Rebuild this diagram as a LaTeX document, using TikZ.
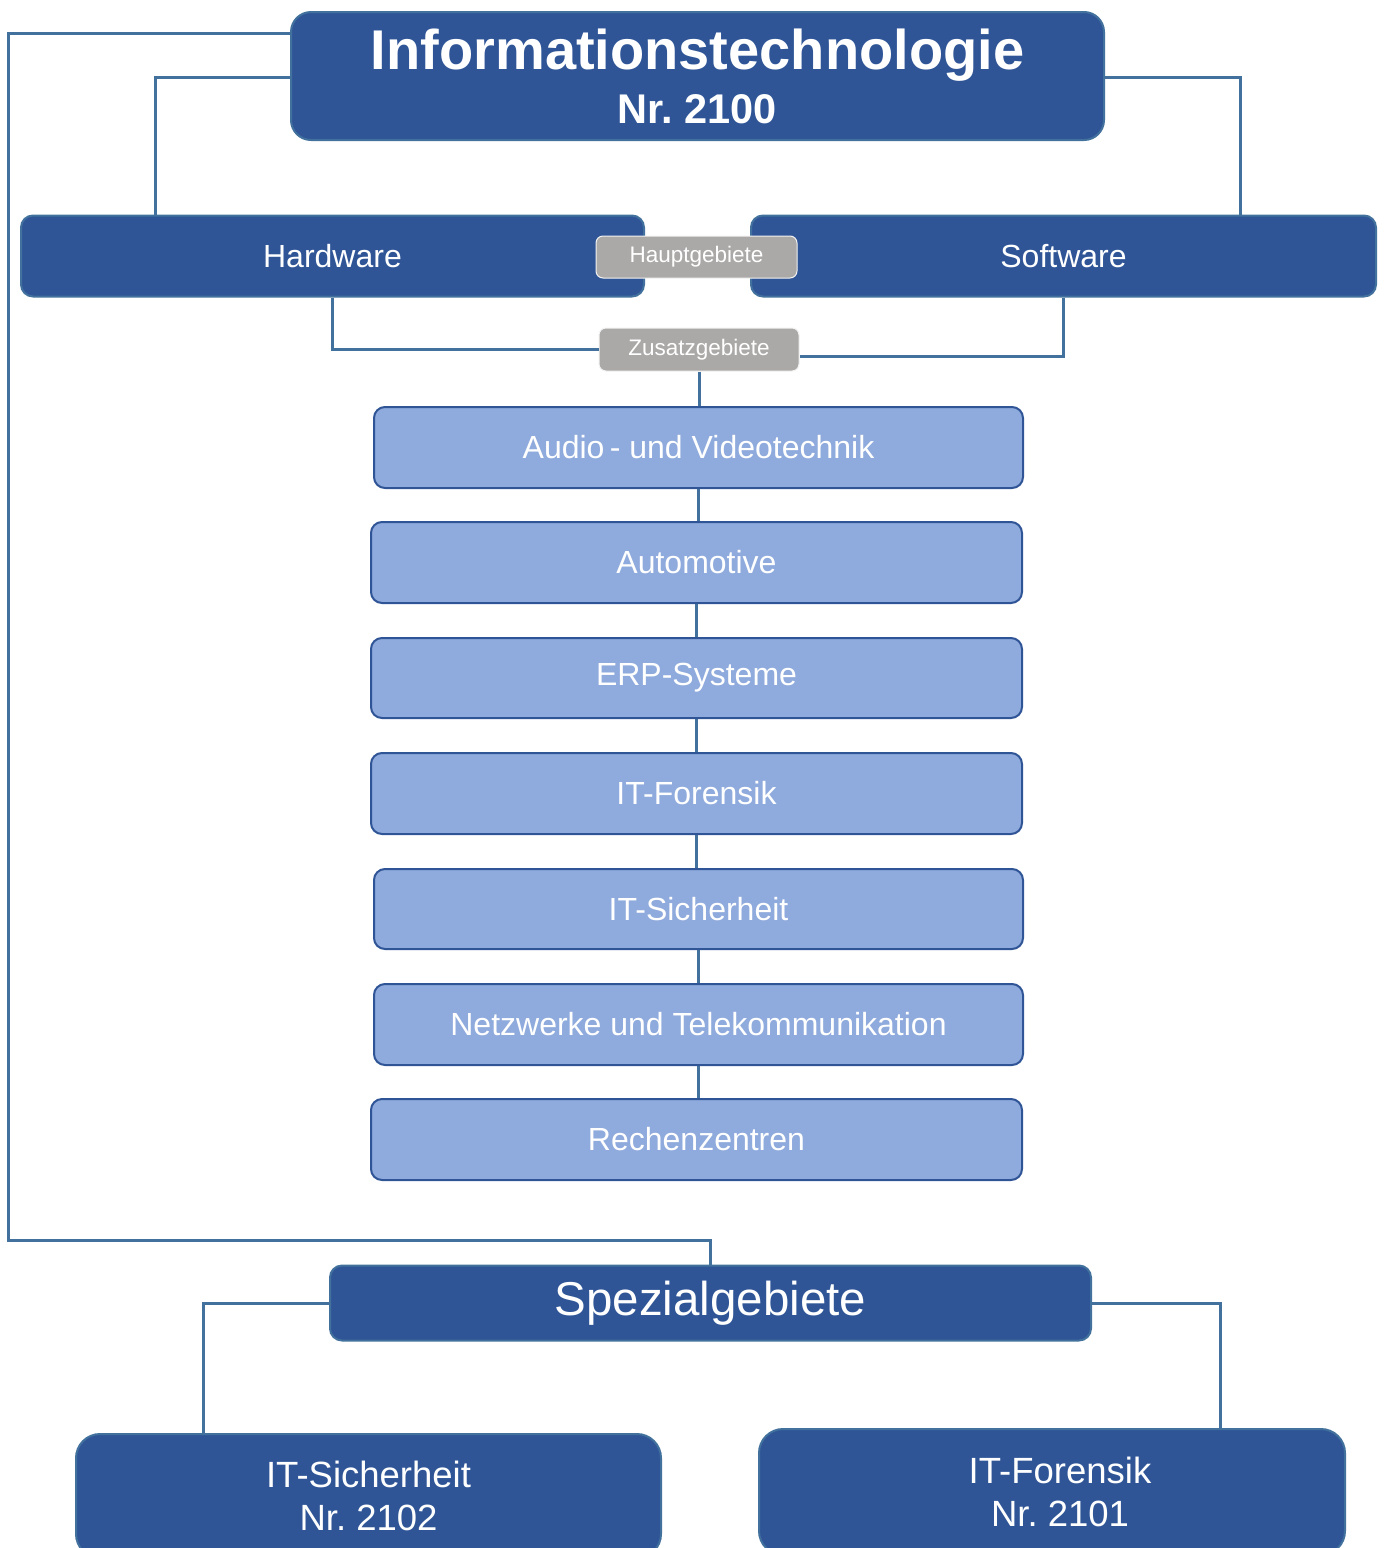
\documentclass[tikz,border=0pt]{standalone}
\usepackage{fontspec}
\setmainfont{Liberation Sans}
\usetikzlibrary{positioning,calc}
\definecolor{dkblue}{HTML}{2F5597}
\definecolor{edgeblue}{HTML}{41719C}
\definecolor{ltblue}{HTML}{8FAADC}
\definecolor{tagray}{HTML}{ABA9A7}
\tikzset{
  mainbox/.style={draw=edgeblue, line width=2pt, fill=dkblue, text=white, inner sep=0pt, rounded corners=14pt, align=center},
  subbox/.style={draw=dkblue, line width=2pt, fill=ltblue, text=white, inner sep=0pt, rounded corners=11pt, minimum height=81pt,
    font=\fontsize{32}{36}\selectfont},
  tagbox/.style={draw=white!85!tagray, line width=1pt, fill=tagray, text=white, inner sep=0pt, rounded corners=7pt,
    font=\fontsize{22.5}{26}\selectfont},
  conn/.style={draw=edgeblue, line width=3pt},
}
\frenchspacing
\begin{document}
\begin{tikzpicture}[x=1pt,y=-1pt]
\useasboundingbox (0,0) rectangle (1385,1548);
\clip (0,0) rectangle (1385,1548);
% named helper coordinates for connector bends
\coordinate (ltop) at (8,33);
\coordinate (lbot) at (8,1240);
\coordinate (hwk) at (155,77);
\coordinate (swk) at (1240,77);
\coordinate (sk) at (203,1304);
\coordinate (fk) at (1220,1304);

\node[mainbox, minimum width=813pt, minimum height=128pt, rounded corners=20pt] (top) at (697.5,76)
  {\fontsize{56}{53}\selectfont\bfseries Informationstechnologie\\[12pt]\fontsize{41.5}{45}\selectfont\bfseries Nr. 2100};
\node[mainbox, minimum width=623pt, minimum height=81pt, rounded corners=12pt, font=\fontsize{32}{36}\selectfont] (hw) at (332.5,256) {Hardware};
\node[mainbox, minimum width=625pt, minimum height=81pt, rounded corners=12pt, font=\fontsize{32}{36}\selectfont] (sw) at (1063.5,256) {Software};
\node[tagbox, minimum width=201pt, minimum height=42pt] (haupt) at (696.5,257) {Hauptgebiete};
\node[tagbox, minimum width=200pt, minimum height=43pt] (zus) at (699,349.5) {Zusatzgebiete};

\node[subbox, minimum width=649pt] (a1) at (698.5,447.5) {Audio\,- und Videotechnik\hspace{6pt}};
\node[subbox, minimum width=651pt] (a2) at (696.5,562.5) {Automotive};
\node[subbox, minimum width=651pt, minimum height=80pt] (a3) at (696.5,678) {ERP-Systeme};
\node[subbox, minimum width=651pt] (a4) at (696.5,793.5) {IT-Forensik};
\node[subbox, minimum width=649pt, minimum height=80pt] (a5) at (698.5,909) {IT-Sicherheit};
\node[subbox, minimum width=649pt] (a6) at (698.5,1024.5) {Netzwerke und Telekommunikation\hspace{20pt}};
\node[subbox, minimum width=651pt] (a7) at (696.5,1139.5) {Rechenzentren};

\node[mainbox, minimum width=761pt, minimum height=75pt, rounded corners=12pt, font=\fontsize{47.5}{52}\selectfont] (spez) at (710.5,1303) {Spezialgebiete};
\node[mainbox, minimum width=585pt, minimum height=124pt, rounded corners=24pt, font=\fontsize{36.5}{43}\selectfont] (sic) at (368.5,1496) {IT-Sicherheit\\Nr. 2102};
\node[mainbox, minimum width=586pt, minimum height=126pt, rounded corners=24pt, font=\fontsize{36.5}{43}\selectfont] (for) at (1052,1492) {\hspace*{16pt}IT-Forensik\\\hspace*{16pt}Nr. 2101};

% connectors
\draw[conn] (top.west |- ltop) -- (ltop) -- (lbot) -| (spez.north);
\draw[conn] (top.west |- hwk) -- (hwk) -- (hwk |- hw.north);
\draw[conn] (top.east |- swk) -- (swk) -- (swk |- sw.north);
\draw[conn] (hw.south) |- (zus.west);
\draw[conn] (sw.south) |- ([yshift=-7pt]zus.east);
\draw[conn] (zus.south) -- (zus.south |- a1.north);
\draw[conn] (a1.south) -- (a1.south |- a2.north);
\draw[conn] (a2.south) -- (a2.south |- a3.north);
\draw[conn] (a3.south) -- (a3.south |- a4.north);
\draw[conn] (a4.south) -- (a4.south |- a5.north);
\draw[conn] (a5.south) -- (a5.south |- a6.north);
\draw[conn] (a6.south) -- (a6.south |- a7.north);
\draw[conn] (spez.west) -| (sk |- sic.north);
\draw[conn] (spez.east) -| (fk |- for.north);
\end{tikzpicture}
\end{document}
